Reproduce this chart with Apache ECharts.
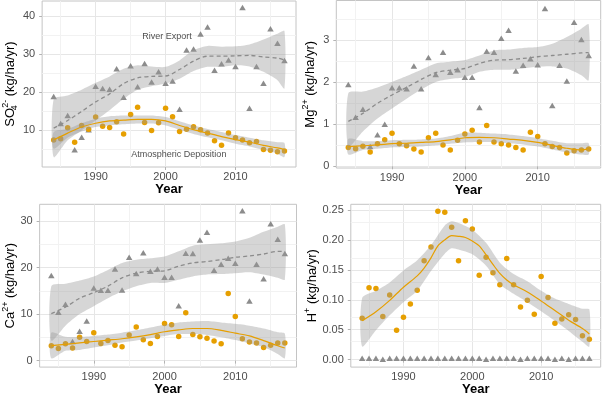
<!DOCTYPE html>
<html>
<head>
<meta charset="utf-8">
<script src="https://cdn.jsdelivr.net/npm/echarts@6/dist/echarts.min.js"></script>
<style>
  html, body { margin: 0; padding: 0; background: #fff; }
  #chart { width: 602px; height: 397px; }
</style>
</head>
<body>
<div id="chart"></div>
<script>
// years of record
var years = [1984, 1985, 1986, 1987, 1988, 1989, 1990, 1991, 1992, 1993, 1994, 1995, 1996, 1997, 1998, 1999, 2000,
  2001, 2002, 2003, 2004, 2005, 2006, 2007, 2008, 2009, 2010, 2011, 2012, 2013, 2014, 2015, 2016, 2017];

// SO4
var so4River = [18.9, 11.8, 13.9, 4.9, 8.2, 10.2, 21.6, 21.0, 20.8, 26.2, 18.7, 27.0, 21.5, 27.6, 22.7, 25.4, 22.4,
  23.0, 15.6, 31.1, 31.4, 35.3, 37.2, 25.8, 27.5, 28.5, 26.8, 42.3, 15.8, 26.8, 22.4, 36.7, 32.9, 28.4];
var so4Atmos = [7.5, 7.8, 10.7, 6.9, 11.3, 10.3, 13.5, 11.1, 10.8, 12.3, 9.1, 14.2, 16.1, 12.1, 10.0, 12.0, 15.8,
  13.6, 9.7, 10.3, 11.0, 10.2, 9.3, 7.3, 6.1, 9.3, 8.1, 7.5, 6.8, 7.1, 5.0, 4.8, 4.4, 4.6];

// Mg
var mgRiver = [1.95, 1.17, 1.36, 0.47, 0.75, 1.00, 1.87, 1.87, 1.85, 2.39, 1.85, 2.59, 2.19, 2.72, 2.24, 2.30, 2.12,
  2.12, 1.40, 2.74, 2.72, 3.05, 3.24, 2.27, 2.41, 2.56, 2.42, 3.76, 1.45, 2.41, 2.03, 3.43, 3.02, 2.64];
var mgAtmos = [0.45, 0.42, 0.48, 0.34, 0.54, 0.63, 0.79, 0.54, 0.49, 0.41, 0.34, 0.68, 0.79, 0.51, 0.39, 0.62, 0.77,
  0.86, 0.58, 0.97, 0.58, 0.54, 0.51, 0.45, 0.39, 0.81, 0.71, 0.54, 0.47, 0.45, 0.32, 0.37, 0.39, 0.41];

// Ca
var caRiver = [18.3, 10.4, 12.1, 4.1, 6.3, 8.5, 15.6, 15.1, 15.1, 19.7, 15.2, 22.2, 18.7, 23.2, 19.2, 19.7, 17.9,
  17.9, 11.8, 23.1, 23.0, 25.9, 27.6, 19.4, 20.7, 22.0, 20.9, 32.2, 12.8, 20.7, 17.6, 29.4, 26.1, 23.0];
var caAtmos = [3.2, 2.6, 3.6, 2.7, 5.0, 4.1, 6.0, 3.7, 4.3, 3.3, 3.0, 5.5, 7.2, 4.5, 3.7, 5.2, 8.0,
  7.7, 5.2, 10.3, 5.6, 5.1, 4.8, 4.2, 3.6, 14.4, 9.5, 4.7, 4.0, 3.8, 2.8, 3.3, 3.8, 3.8];

// H
var hRiver = [0.0025, 0.0025, 0.0025, 0.0005, 0.0025, 0.0025, 0.0025, 0.0025, 0.0025, 0.0025, 0.0025, 0.0025, 0.0025,
  0.0025, 0.0025, 0.0025, 0.0025, 0.0025, 0.0005, 0.0025, 0.0025, 0.0025, 0.0025, 0.0005, 0.0025, 0.0025, 0.0025,
  0.0025, 0.0005, 0.0025, 0.0005, 0.0025, 0.0025, 0.0025];
var hAtmos = [0.069, 0.120, 0.119, 0.072, 0.108, 0.049, 0.071, 0.093, 0.116, 0.165, 0.188, 0.248, 0.246, 0.221, 0.165,
  0.232, 0.218, 0.141, 0.171, 0.145, 0.125, 0.169, 0.125, 0.088, 0.099, 0.076, 0.139, 0.104, 0.061, 0.068, 0.075,
  0.067, 0.040, 0.034];

// loess fits
var fitYears = [1984, 1986, 1988, 1990, 1992, 1994, 1996, 1998, 2000, 2002, 2004, 2006, 2008, 2010, 2012, 2014, 2016, 2017];

var so4RiverFit = [10.6, 12.6, 15.0, 17.5, 19.6, 22.3, 23.8, 24.2, 24.3, 26.0, 28.2, 29.5, 29.5, 29.6, 29.7, 29.3, 29.0, 28.5];
var so4RiverHi = [18.2, 19.2, 20.7, 22.5, 24.2, 26.2, 27.1, 26.8, 26.7, 28.4, 31.1, 32.2, 32.0, 32.1, 32.6, 33.9, 35.4, 36.1];
var so4RiverLo = [3.0, 7.4, 10.0, 12.6, 15.3, 18.3, 20.7, 21.6, 22.3, 23.6, 25.6, 26.7, 26.7, 27.1, 26.8, 25.4, 23.2, 21.0];
var so4AtmosFit = [7.5, 9.3, 10.9, 11.9, 12.5, 12.7, 12.9, 12.9, 12.5, 11.3, 10.2, 9.3, 8.4, 7.6, 6.9, 6.1, 5.4, 5.0];
var so4AtmosHi = [9.6, 10.4, 11.9, 13.1, 13.7, 13.9, 13.9, 13.9, 13.5, 12.4, 11.3, 10.4, 9.6, 8.8, 8.1, 7.4, 6.9, 6.7];
var so4AtmosLo = [5.2, 8.1, 9.7, 10.9, 11.3, 11.6, 11.8, 11.8, 11.3, 10.2, 9.1, 8.2, 7.4, 6.5, 5.8, 4.9, 3.9, 3.0];

var mgRiverFit = [1.07, 1.26, 1.50, 1.70, 1.88, 2.07, 2.23, 2.29, 2.33, 2.45, 2.53, 2.54, 2.57, 2.61, 2.64, 2.67, 2.70, 2.71];
var mgRiverHi = [1.74, 1.78, 1.88, 2.01, 2.15, 2.30, 2.45, 2.49, 2.53, 2.64, 2.76, 2.78, 2.82, 2.84, 2.92, 3.08, 3.28, 3.38];
var mgRiverLo = [0.47, 0.83, 1.14, 1.38, 1.61, 1.83, 2.01, 2.08, 2.12, 2.25, 2.30, 2.30, 2.33, 2.37, 2.38, 2.33, 2.17, 2.05];
var mgAtmosFit = [0.47, 0.49, 0.51, 0.54, 0.55, 0.57, 0.59, 0.63, 0.68, 0.69, 0.68, 0.65, 0.62, 0.57, 0.50, 0.43, 0.39, 0.42];
var mgAtmosHi = [0.65, 0.60, 0.60, 0.62, 0.63, 0.64, 0.66, 0.72, 0.80, 0.80, 0.78, 0.76, 0.72, 0.67, 0.61, 0.55, 0.55, 0.55];
var mgAtmosLo = [0.28, 0.39, 0.42, 0.45, 0.46, 0.47, 0.50, 0.54, 0.57, 0.58, 0.57, 0.55, 0.52, 0.47, 0.40, 0.33, 0.28, 0.28];

var caRiverFit = [10.1, 11.5, 13.4, 14.6, 16.0, 17.8, 18.8, 19.2, 19.3, 20.3, 21.0, 21.3, 21.7, 22.2, 22.5, 22.9, 23.5, 23.5];
var caRiverHi = [16.0, 16.5, 17.2, 18.1, 19.5, 21.0, 21.7, 22.0, 22.4, 23.5, 24.7, 25.0, 25.2, 25.6, 26.4, 27.7, 28.8, 29.3];
var caRiverLo = [4.3, 7.5, 10.0, 11.7, 13.4, 14.9, 16.0, 16.7, 16.7, 17.4, 18.1, 18.5, 18.6, 18.8, 19.0, 18.5, 17.8, 17.4];
var caAtmosFit = [3.2, 3.5, 3.8, 4.1, 4.4, 4.7, 5.1, 5.6, 6.2, 6.6, 6.9, 6.9, 6.5, 5.9, 5.3, 4.3, 3.2, 2.7];
var caAtmosHi = [6.0, 5.1, 5.1, 5.3, 5.6, 6.0, 6.5, 7.1, 7.7, 8.2, 8.4, 8.5, 8.2, 7.9, 7.5, 6.9, 6.1, 5.8];
var caAtmosLo = [0.5, 2.1, 2.3, 2.8, 3.3, 3.9, 4.3, 4.8, 5.3, 5.7, 5.7, 5.5, 5.0, 4.4, 3.7, 2.9, 1.4, 0.5];

var hFitYears = [1984, 1986, 1988, 1990, 1992, 1993, 1994, 1995, 1996, 1997, 1998, 1999, 2000, 2001, 2002, 2003, 2004,
  2005, 2006, 2008, 2010, 2012, 2014, 2016, 2017];
var hAtmosFit = [0.065, 0.080, 0.099, 0.121, 0.140, 0.153, 0.170, 0.190, 0.200, 0.207, 0.206, 0.204, 0.198, 0.190,
  0.175, 0.159, 0.144, 0.133, 0.125, 0.113, 0.098, 0.082, 0.066, 0.052, 0.043];
var hBandYears = [1984, 1986, 1988, 1990, 1992, 1994, 1996, 1997, 1998, 2000, 2002, 2004, 2006, 2008, 2010, 2012, 2014, 2016, 2017];
var hAtmosHi = [0.103, 0.115, 0.129, 0.149, 0.166, 0.191, 0.224, 0.231, 0.228, 0.217, 0.195, 0.162, 0.143, 0.131,
  0.115, 0.102, 0.093, 0.085, 0.084];
var hAtmosLo = [0.022, 0.049, 0.074, 0.096, 0.115, 0.148, 0.177, 0.186, 0.184, 0.176, 0.157, 0.126, 0.110, 0.096,
  0.081, 0.065, 0.048, 0.030, 0.022];

// axis ticks
var xTicks = [1990, 2000, 2010];
var xMinor = [1985, 1995, 2005, 2015];
var so4Ticks = [10, 20, 30, 40], so4Minor = [5, 15, 25, 35];
var mgTicks = [0, 1, 2, 3], mgMinor = [0.5, 1.5, 2.5, 3.5];
var caTicks = [0, 10, 20, 30], caMinor = [5, 15, 25];
var hTicks = [0, 0.05, 0.10, 0.15, 0.20, 0.25], hMinor = [0.025, 0.075, 0.125, 0.175, 0.225];

var annotX = [2000.2, 2001.9];
var annotY = [34.8, 3.7];
var annotText = ['River Export', 'Atmospheric Deposition'];

var FONT = 'Liberation Sans, Arial, sans-serif';
var ORANGE = '#E69F00';
var GREY = '#8c8c8c';

var chart = echarts.init(document.getElementById('chart'));

function pairs(xs, ys) {
  return xs.map(function (x, i) { return [x, ys[i]]; });
}

// grey confidence band: one polygon, upper edge then lower edge back
function ribbon(gi, xs, lo, hi) {
  return {
    type: 'custom', xAxisIndex: gi, yAxisIndex: gi, z: 3, silent: true,
    data: pairs(xs, hi),
    renderItem: function (params, api) {
      if (params.dataIndex !== 0) return null;
      var pts = [];
      for (var i = 0; i < xs.length; i++) pts.push(api.coord([xs[i], hi[i]]));
      for (var j = xs.length - 1; j >= 0; j--) pts.push(api.coord([xs[j], lo[j]]));
      return {
        type: 'polygon',
        shape: { points: pts, smooth: 0.25 },
        style: { fill: 'rgba(153,153,153,0.4)' }
      };
    }
  };
}

function fitLine(gi, xs, ys, color, dashed) {
  return {
    type: 'line', xAxisIndex: gi, yAxisIndex: gi, smooth: 0.3, symbol: 'none', silent: true, z: 4,
    lineStyle: { color: color, width: dashed ? 1.3 : 1.2, type: dashed ? [4, 3] : 'solid' },
    data: pairs(xs, ys)
  };
}

function points(gi, ys, river) {
  return {
    type: 'scatter', xAxisIndex: gi, yAxisIndex: gi, z: 2,
    symbol: river ? 'triangle' : 'circle',
    symbolSize: river ? [6.5, 5.5] : 5.5,
    itemStyle: { color: river ? GREY : ORANGE, opacity: 1 },
    data: pairs(years, ys)
  };
}

function minorGrid(gi, yMinor) {
  var lines = xMinor.map(function (v) { return { xAxis: v }; })
    .concat(yMinor.map(function (v) { return { yAxis: v }; }));
  return {
    type: 'line', xAxisIndex: gi, yAxisIndex: gi, z: 1, data: [], silent: true,
    markLine: {
      silent: true, symbol: 'none', animation: false, z: 1,
      label: { show: false },
      lineStyle: { color: '#f2f2f2', width: 1, type: 'solid' },
      data: lines
    }
  };
}

var grids = [
  { left: 40.7, top: 1, width: 255.3, height: 166 },
  { left: 336.3, top: 0.5, width: 264.4, height: 167.5 },
  { left: 38.5, top: 204.3, width: 258, height: 164 },
  { left: 350.8, top: 204.3, width: 249.9, height: 164 }
];

var yRanges = [[0.4, 44], [-0.04, 3.95], [-1.4, 33.6], [-0.0124, 0.2594]];
var yTickSets = [so4Ticks, mgTicks, caTicks, hTicks];
var yNames = [
  '{t|SO}{sub|4}{sup|2-}{t| (kg/ha/yr)}',
  '{t|Mg}{sup|2+}{t| (kg/ha/yr)}',
  '{t|Ca}{sup|2+}{t| (kg/ha/yr)}',
  '{t|H}{sup|+}{t| (kg/ha/yr)}'
];
var yNameGaps = [20, 17, 19, 28];

var rich = {
  t: { fontFamily: FONT, fontSize: 13, color: '#000', lineHeight: 18 },
  sup: { fontFamily: FONT, fontSize: 9, color: '#000', lineHeight: 18, verticalAlign: 'top' },
  sub: { fontFamily: FONT, fontSize: 9, color: '#000', lineHeight: 18, verticalAlign: 'bottom', width: 0 }
};

var xAxes = grids.map(function (g, i) {
  return {
    type: 'value', gridIndex: i, min: 1982.35, max: 2018.65,
    name: 'Year', nameLocation: 'middle', nameGap: 15,
    nameTextStyle: { fontFamily: FONT, fontSize: 13, fontWeight: 'bold', color: '#000' },
    axisLine: { show: false },
    axisTick: { show: true, length: 3, customValues: xTicks, lineStyle: { color: '#b3b3b3' } },
    axisLabel: {
      customValues: xTicks, margin: 4, fontFamily: FONT, fontSize: 11, color: '#4d4d4d',
      formatter: function (v) { return String(v); }
    },
    splitLine: { show: true, lineStyle: { color: '#e6e6e6', width: 1 } }
  };
});

var yAxes = grids.map(function (g, i) {
  return {
    type: 'value', gridIndex: i, min: yRanges[i][0], max: yRanges[i][1],
    name: yNames[i], nameLocation: 'middle', nameGap: yNameGaps[i],
    nameTextStyle: { rich: rich },
    axisLine: { show: false },
    axisTick: { show: true, length: 3, customValues: yTickSets[i], lineStyle: { color: '#b3b3b3' } },
    axisLabel: {
      customValues: yTickSets[i], margin: 7, fontFamily: FONT, fontSize: 11, color: '#4d4d4d',
      formatter: i === 3 ? function (v) { return v.toFixed(2); } : function (v) { return String(v); }
    },
    splitLine: { show: true, lineStyle: { color: '#e6e6e6', width: 1 } }
  };
});

var series = [];
// minor gridlines
series.push(minorGrid(0, so4Minor), minorGrid(1, mgMinor), minorGrid(2, caMinor), minorGrid(3, hMinor));

// points
series.push(points(0, so4River, true), points(0, so4Atmos, false));
series.push(points(1, mgRiver, true), points(1, mgAtmos, false));
series.push(points(2, caRiver, true), points(2, caAtmos, false));
series.push(points(3, hRiver, true), points(3, hAtmos, false));

// confidence ribbons
series.push(ribbon(0, fitYears, so4RiverLo, so4RiverHi));
series.push(ribbon(0, fitYears, so4AtmosLo, so4AtmosHi));
series.push(ribbon(1, fitYears, mgRiverLo, mgRiverHi));
series.push(ribbon(1, fitYears, mgAtmosLo, mgAtmosHi));
series.push(ribbon(2, fitYears, caRiverLo, caRiverHi));
series.push(ribbon(2, fitYears, caAtmosLo, caAtmosHi));
series.push(ribbon(3, hBandYears, hAtmosLo, hAtmosHi));

// fitted lines
series.push(fitLine(0, fitYears, so4RiverFit, GREY, true), fitLine(0, fitYears, so4AtmosFit, ORANGE, false));
series.push(fitLine(1, fitYears, mgRiverFit, GREY, true), fitLine(1, fitYears, mgAtmosFit, ORANGE, false));
series.push(fitLine(2, fitYears, caRiverFit, GREY, true), fitLine(2, fitYears, caAtmosFit, ORANGE, false));
series.push(fitLine(3, hFitYears, hAtmosFit, ORANGE, false));

// text annotations in panel 1
series.push({
  type: 'scatter', xAxisIndex: 0, yAxisIndex: 0, symbolSize: 0, z: 5, silent: true,
  label: {
    show: true, position: 'inside', fontFamily: FONT, fontSize: 9, color: '#1a1a1a',
    formatter: function (p) { return p.value[2]; }
  },
  data: annotX.map(function (x, i) { return [x, annotY[i], annotText[i]]; })
});

chart.setOption({
  animation: false,
  grid: grids.map(function (g) {
    return Object.assign({ show: true, borderColor: '#c4c4c4', borderWidth: 1, containLabel: false }, g);
  }),
  xAxis: xAxes,
  yAxis: yAxes,
  series: series
});
</script>
</body>
</html>
